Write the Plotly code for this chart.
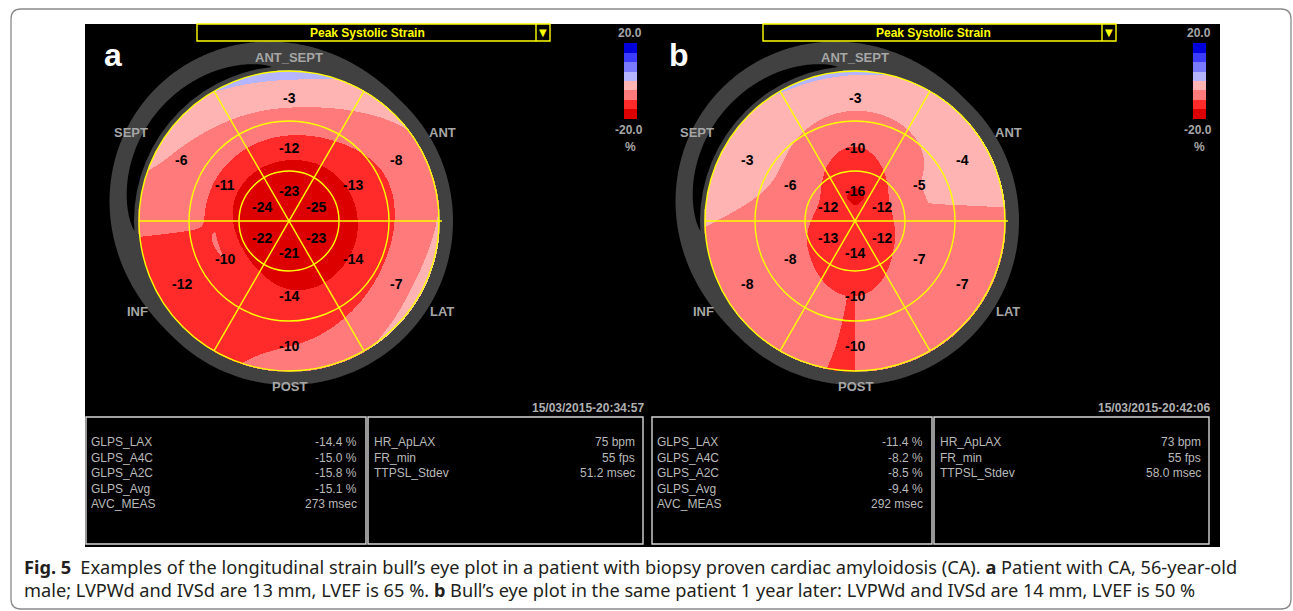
import numpy as np
import plotly.graph_objects as go

W, H = 1293, 611

# ---------------- data ----------------
region_names = ["ANT_SEPT", "ANT", "LAT", "POST", "INF", "SEPT"]   # clockwise from top
# segment peak systolic strain (%), order: ANT_SEPT, ANT, LAT, POST, INF, SEPT
a_basal = [-3, -8, -7, -10, -12, -6]
a_mid = [-12, -13, -14, -14, -10, -11]
a_apical = [-23, -25, -23, -21, -22, -24]
b_basal = [-3, -4, -7, -10, -8, -3]
b_mid = [-10, -5, -7, -10, -8, -6]
b_apical = [-16, -12, -12, -14, -13, -12]

glps_labels = ["GLPS_LAX", "GLPS_A4C", "GLPS_A2C", "GLPS_Avg"]
a_glps = [-14.4, -15.0, -15.8, -15.1]
b_glps = [-11.4, -8.2, -8.5, -9.4]
avc_label = "AVC_MEAS"
a_avc = 273
b_avc = 292
hr_labels = ["HR_ApLAX", "FR_min", "TTPSL_Stdev"]
hr_units = ["bpm", "fps", "msec"]
hr_decimals = [0, 0, 1]
a_hr = [75, 55, 51.2]
b_hr = [73, 55, 58.0]
timestamps = ["15/03/2015-20:34:57", "15/03/2015-20:42:06"]
panel_letters = ["a", "b"]
scale_min, scale_max = -20.0, 20.0
band_colors = ["#dc0000", "#ff2a2a", "#ff7a7a", "#ffb4b4",
               "#b4b4ff", "#7a7aff", "#3c3cff", "#0000dc"]
caption_1 = ("<b>Fig. 5</b>\u2002Examples of the longitudinal strain bull\u2019s eye plot in a patient "
             "with biopsy proven cardiac amyloidosis (CA). <b>a</b> Patient with CA, 56-year-old")
caption_2 = ("male; LVPWd and IVSd are 13 mm, LVEF is 65 %. <b>b</b> Bull\u2019s eye plot in the same "
             "patient 1 year later: LVPWd and IVSd are 14 mm, LVEF is 50 %")

panels = [
    dict(basal=a_basal, mid=a_mid, apical=a_apical, glps=a_glps, avc=a_avc, hr=a_hr),
    dict(basal=b_basal, mid=b_mid, apical=b_apical, glps=b_glps, avc=b_avc, hr=b_hr),
]

# ---------------- layout constants ----------------
R = 150
centers = [(289, 221), (855, 221)]
PX = 566  # horizontal offset of panel b
ring_r = [50, 100, 150]
label_r = [31, 74, 124]
YEL = "#ffff00"
GRAY_RING = "#414141"
LBL_GRAY = "#a6a6a6"
TXT_GRAY = "#b9b9b9"


def ring_interp(vals, theta):
    t = ((90.0 - np.degrees(theta)) / 60.0) % 6.0
    k = np.floor(t).astype(int)
    f = t - k
    v = np.asarray(vals, float)
    p0 = v[(k - 1) % 6]; p1 = v[k % 6]; p2 = v[(k + 1) % 6]; p3 = v[(k + 2) % 6]
    return 0.5 * (2 * p1 + (-p0 + p2) * f + (2 * p0 - 5 * p1 + 4 * p2 - p3) * f ** 2
                  + (-p0 + 3 * p1 - 3 * p2 + p3) * f ** 3)


def strain_field(basal, mid, apical):
    xs = np.arange(-R, R + 1)
    X, Yd = np.meshgrid(xs, xs)
    rr = np.hypot(X, Yd)
    th = np.arctan2(-Yd, X)
    va = ring_interp(apical, th)
    vm = ring_interp(mid, th)
    vb = ring_interp(basal, th)
    c = float(np.mean(apical))
    z = np.where(rr < 25, c + (va - c) * rr / 25,
                 np.where(rr < 75, va + (vm - va) * (rr - 25) / 50,
                          vm + (vb - vm) * (rr - 75) / 50))
    z = z.astype(float)
    z[rr > R + 0.5] = np.nan
    return z


cs = []
nb = len(band_colors)
for i, c in enumerate(band_colors):
    cs.append([i / nb, c])
    cs.append([(i + 1) / nb, c])

fig = go.Figure()
shapes = []
ann = []


def poly_path(xs, ys):
    s = "M %.2f,%.2f " % (xs[0], ys[0])
    s += " ".join("L %.2f,%.2f" % (x, y) for x, y in zip(xs[1:], ys[1:]))
    return s + " Z"


# outer rounded border of the figure
shapes.append(dict(type="path", xref="x", yref="y", layer="below",
                   path="M 21,9 L 1281,9 Q 1291,9 1291,19 L 1291,599 Q 1291,609 1281,609 "
                        "L 21,609 Q 11,609 11,599 L 11,19 Q 11,9 21,9 Z",
                   line=dict(color="#8a8a8a", width=1.3), fillcolor="white"))
# black screen background
shapes.append(dict(type="rect", xref="x", yref="y", layer="below",
                   x0=85, x1=1220, y0=24, y1=547, line=dict(width=0), fillcolor="black"))

phi = np.radians(np.linspace(0, 360, 721))
r_out = 164 + 24 * np.clip(np.cos(phi - np.radians(135)), 0, None) ** 1.5
r_crescent = 154 + 17 * np.clip((np.cos(phi - np.radians(140)) - 0.72) / 0.28, 0, None) ** 0.7

for pi_, (cx, cy) in enumerate(centers):
    p = panels[pi_]
    # gray LV outline ring (decoration)
    shapes.append(dict(type="path", xref="x", yref="y", layer="below",
                       path=poly_path(cx + r_out * np.cos(phi), cy - r_out * np.sin(phi)),
                       line=dict(width=0), fillcolor=GRAY_RING))
    shapes.append(dict(type="path", xref="x", yref="y", layer="below",
                       path=poly_path(cx + r_crescent * np.cos(phi), cy - r_crescent * np.sin(phi)),
                       line=dict(width=0), fillcolor="black"))
    shapes.append(dict(type="circle", xref="x", yref="y", layer="below",
                       x0=cx - 155, x1=cx + 155, y0=cy - 155, y1=cy + 155,
                       line=dict(width=0), fillcolor=GRAY_RING))

    z = strain_field(p["basal"], p["mid"], p["apical"])
    cbx = 624 + pi_ * 569
    fig.add_trace(go.Heatmap(
        z=z, x0=cx - R, dx=1, y0=cy - R, dy=1, zmin=scale_min, zmax=scale_max,
        colorscale=cs, hoverinfo="skip", showscale=True,
        colorbar=dict(x=cbx / W, xanchor="left", y=1 - 43 / H, yanchor="top",
                      thickness=13, thicknessmode="pixels", len=76, lenmode="pixels",
                      xpad=0, ypad=0, outlinewidth=0, borderwidth=0,
                      showticklabels=False, ticks="", bgcolor="rgba(0,0,0,0)")))

    # yellow grid
    for rr in ring_r:
        shapes.append(dict(type="circle", xref="x", yref="y", layer="above",
                           x0=cx - rr, x1=cx + rr, y0=cy - rr, y1=cy + rr,
                           line=dict(color=YEL, width=1.4)))
    for ang in (0, 60, 120):
        a = np.radians(ang)
        ext = 153 if ang == 0 else R
        shapes.append(dict(type="line", xref="x", yref="y", layer="above",
                           x0=cx - R * np.cos(a), y0=cy + R * np.sin(a),
                           x1=cx + ext * np.cos(a), y1=cy - ext * np.sin(a),
                           line=dict(color=YEL, width=1.4)))

    # segment values
    for ring_vals, lr in zip([p["apical"], p["mid"], p["basal"]], label_r):
        for k, v in enumerate(ring_vals):
            a = np.radians(90 - 60 * k)
            ann.append(dict(x=cx + lr * np.cos(a), y=cy - lr * np.sin(a) + 1, text="%d" % v,
                            font=dict(family="Liberation Sans Narrow, Liberation Sans, Arial",
                                      size=14, color="black", weight="bold")))

    # region names
    name_pos = [(0, -164), (153, -89), (153, 90), (0, 165), (-152, 90), (-158, -89)]
    for nm, (dx, dy) in zip(region_names, name_pos):
        ann.append(dict(x=cx + dx, y=cy + dy, text="<b>%s</b>" % nm,
                        font=dict(family="Liberation Sans, Arial", size=13, color=LBL_GRAY)))

    ox = pi_ * PX
    # panel letter
    ann.append(dict(x=113 + ox, y=55, text="<b>%s</b>" % panel_letters[pi_],
                    font=dict(family="Liberation Sans, Arial", size=32, color="white")))
    # header box
    shapes.append(dict(type="rect", xref="x", yref="y", layer="above",
                       x0=197 + ox, x1=550 + ox, y0=24, y1=41, line=dict(color=YEL, width=1.4)))
    shapes.append(dict(type="line", xref="x", yref="y", layer="above",
                       x0=536 + ox, x1=536 + ox, y0=24, y1=41, line=dict(color=YEL, width=1.4)))
    ann.append(dict(x=367 + ox, y=33, text="<b>Peak Systolic Strain</b>",
                    font=dict(family="Liberation Sans, Arial", size=12, color=YEL)))
    ann.append(dict(x=543 + ox, y=32, text="\u25BC",
                    font=dict(family="DejaVu Sans", size=10, color=YEL)))
    # colorbar labels
    ann.append(dict(x=cbx + 6, y=33, text="<b>20.0</b>",
                    font=dict(family="Liberation Sans, Arial", size=12, color=LBL_GRAY)))
    ann.append(dict(x=cbx + 5, y=130, text="<b>-20.0</b>",
                    font=dict(family="Liberation Sans, Arial", size=12, color=LBL_GRAY)))
    ann.append(dict(x=cbx + 6, y=147, text="<b>%</b>",
                    font=dict(family="Liberation Sans, Arial", size=12, color=LBL_GRAY)))
    # timestamp
    ann.append(dict(x=646 + ox, y=408, text="<b>%s</b>" % timestamps[pi_], xanchor="right",
                    font=dict(family="Liberation Sans, Arial", size=12, color="#b0b0b0")))
    # measurement boxes
    shapes.append(dict(type="rect", xref="x", yref="y", layer="above",
                       x0=86 + ox, x1=366 + ox, y0=417, y1=544, line=dict(color="#d6d6d6", width=1.4)))
    shapes.append(dict(type="rect", xref="x", yref="y", layer="above",
                       x0=368 + ox, x1=643 + ox, y0=417, y1=544, line=dict(color="#d6d6d6", width=1.4)))
    rows_y = [442, 457.5, 473, 488.5, 504]
    left_labels = glps_labels + [avc_label]
    left_vals = ["%.1f %%" % v for v in p["glps"]] + ["%d msec" % p["avc"]]
    for yv, lab, val in zip(rows_y, left_labels, left_vals):
        ann.append(dict(x=89 + ox, y=yv, text=lab, xanchor="left",
                        font=dict(family="Liberation Sans, Arial", size=12, color=TXT_GRAY)))
        ann.append(dict(x=359 + ox, y=yv, text=val, xanchor="right",
                        font=dict(family="Liberation Sans, Arial", size=12, color=TXT_GRAY)))
    for yv, lab, val, unit, dec in zip(rows_y, hr_labels, p["hr"], hr_units, hr_decimals):
        ann.append(dict(x=372 + ox, y=yv, text=lab, xanchor="left",
                        font=dict(family="Liberation Sans, Arial", size=12, color=TXT_GRAY)))
        ann.append(dict(x=637 + ox, y=yv, text=("%." + str(dec) + "f %s") % (val, unit), xanchor="right",
                        font=dict(family="Liberation Sans, Arial", size=12, color=TXT_GRAY)))

# caption
ann.append(dict(x=22, y=567, text=caption_1, xanchor="left",
                font=dict(family="Noto Sans", size=18.2, color="#231f20")))
ann.append(dict(x=22, y=590, text=caption_2, xanchor="left",
                font=dict(family="Noto Sans", size=18.2, color="#231f20")))

for a_ in ann:
    a_.setdefault("xref", "x")
    a_.setdefault("yref", "y")
    a_.setdefault("showarrow", False)
    a_.setdefault("xanchor", "center")
    a_.setdefault("yanchor", "middle")

fig.update_layout(
    width=W, height=H, margin=dict(l=0, r=0, t=0, b=0),
    paper_bgcolor="white", plot_bgcolor="white",
    xaxis=dict(range=[0, W], visible=False, fixedrange=True),
    yaxis=dict(range=[H, 0], visible=False, fixedrange=True),
    shapes=shapes, annotations=ann, showlegend=False,
)

fig.write_html("out.html", config={"displayModeBar": False},
               post_script="document.body.style.margin='0';document.body.style.overflow='hidden';")
